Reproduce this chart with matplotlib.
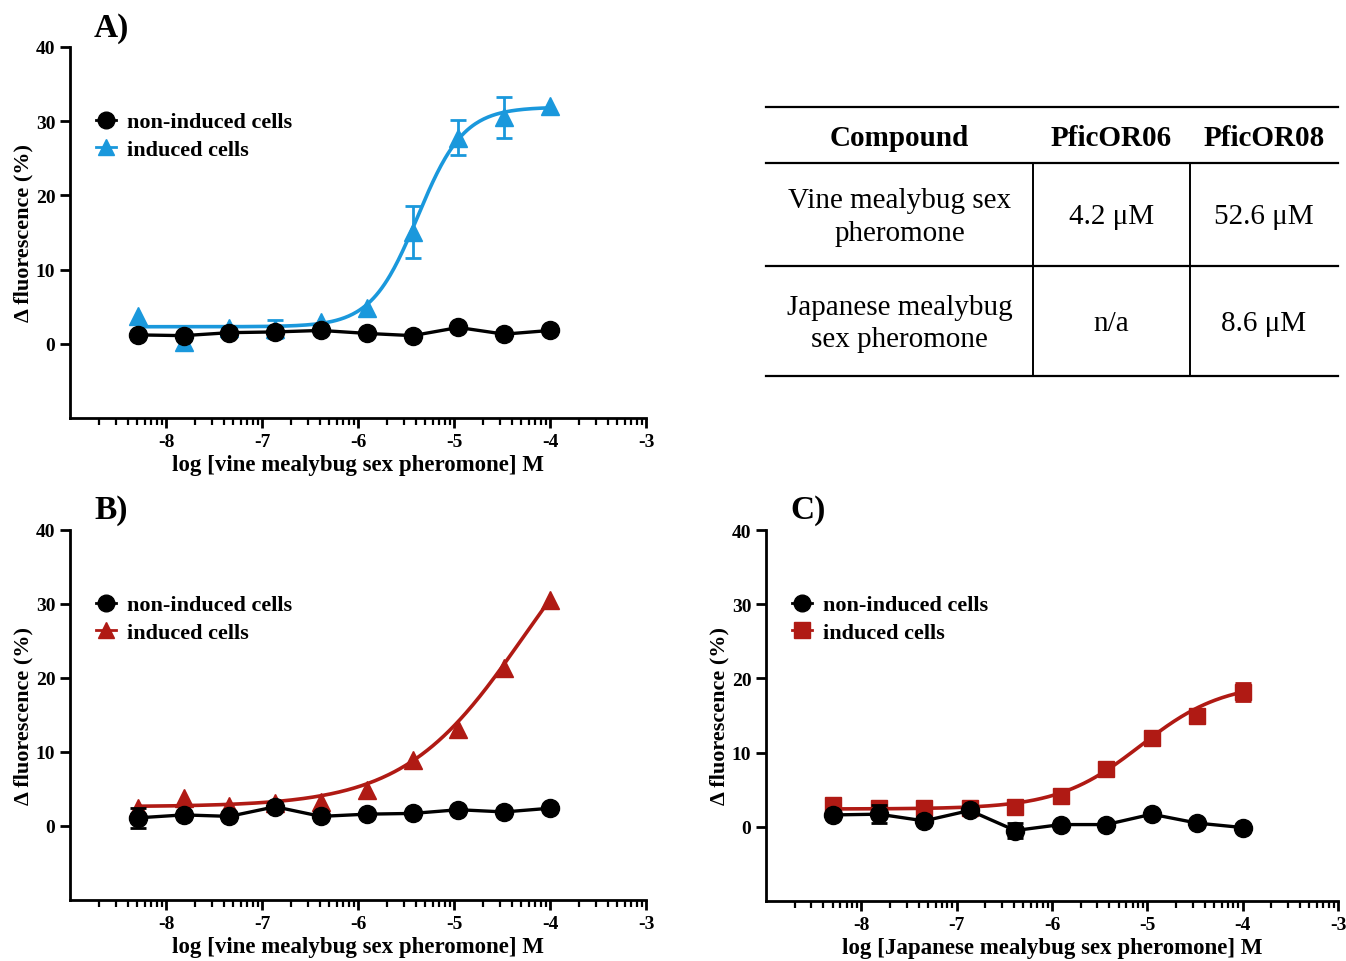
import numpy as np
import matplotlib
matplotlib.use('Agg')
import matplotlib.pyplot as plt
from matplotlib.lines import Line2D

plt.rcParams['font.family'] = ['Liberation Serif', 'DejaVu Serif']
plt.rcParams['font.weight'] = 'bold'
plt.rcParams['axes.unicode_minus'] = False

# ---------------- data ----------------
log_conc = [-8.294, -7.817, -7.340, -6.863, -6.386, -5.908, -5.431, -4.954, -4.477, -4.000]

# Panel A (PficOR06, vine mealybug sex pheromone)
a_induced = [3.8, 0.3, 2.1, 2.0, 2.9, 4.8, 15.1, 27.8, 30.5, 32.0]
a_induced_err = [0, 0, 0, 1.2, 0, 0, 3.5, 2.3, 2.7, 0]
a_non = [1.2, 1.1, 1.5, 1.6, 1.8, 1.4, 1.1, 2.2, 1.3, 1.8]
a_non_err = [0, 0, 0, 0, 0, 0, 0, 0, 0, 0]
a_fit = dict(bottom=2.3, top=31.9, logec50=-5.38, hill=1.8)

# Panel B (PficOR08, vine mealybug sex pheromone)
b_induced = [2.5, 3.8, 2.7, 3.1, 3.3, 4.8, 8.9, 13.1, 21.4, 30.6]
b_induced_err = [0, 0, 0, 0, 0, 0, 0, 0, 0, 0]
b_non = [1.1, 1.5, 1.3, 2.6, 1.3, 1.6, 1.7, 2.2, 1.9, 2.4]
b_non_err = [1.4, 0, 0, 0, 0, 0, 0, 0, 0, 0]
b_fit = dict(bottom=2.6, top=48.4, logec50=-4.28, hill=0.7)

# Panel C (PficOR08, Japanese mealybug sex pheromone)
c_induced = [3.0, 2.5, 2.6, 2.5, 2.7, 4.1, 7.8, 12.0, 15.0, 18.2]
c_induced_err = [0, 0, 0, 0, 0, 0, 0, 0, 0, 1.2]
c_non = [1.6, 1.7, 0.8, 2.2, -0.5, 0.3, 0.3, 1.7, 0.5, -0.1]
c_non_err = [0, 1.2, 0, 0, 1.0, 0, 0, 0, 0, 0]
c_fit = dict(bottom=2.4, top=19.5, logec50=-5.07, hill=1.0)

# Table
table_header = ['Compound', 'PficOR06', 'PficOR08']
table_rows = [
    ['Vine mealybug sex\npheromone', '4.2 μM', '52.6 μM'],
    ['Japanese mealybug\nsex pheromone', 'n/a', '8.6 μM'],
]

x_labels = ['log [vine mealybug sex pheromone] M',
            'log [vine mealybug sex pheromone] M',
            'log [Japanese mealybug sex pheromone] M']
legend_labels = ['non-induced cells', 'induced cells']

BLUE = '#1a98dc'
RED = '#b01a14'

W, H = 1346, 962
fig = plt.figure(figsize=(W / 100, H / 100), dpi=100)


def fig_rect(left, top, right, bottom):
    return [left / W, 1 - bottom / H, (right - left) / W, (bottom - top) / H]


def hill(x, bottom, top, logec50, hill):
    x = np.asarray(x)
    return bottom + (top - bottom) / (1 + 10 ** ((logec50 - x) * hill))


def style_axes(ax, xlabel):
    ax.set_xlim(-9, -3)
    ax.set_ylim(-10, 40)
    for s in ['top', 'right']:
        ax.spines[s].set_visible(False)
    for s in ['left', 'bottom']:
        ax.spines[s].set_linewidth(2.0)
    ax.set_yticks([0, 10, 20, 30, 40])
    ax.set_xticks([-8, -7, -6, -5, -4, -3])
    minor = [d + np.log10(k) for d in range(-9, -3) for k in range(2, 10)]
    ax.set_xticks(minor, minor=True)
    ax.tick_params(axis='both', which='major', direction='out', width=2.0,
                   length=7, labelsize=14)
    ax.tick_params(axis='x', which='minor', direction='out', width=1.6, length=5)
    ax.set_ylabel('Δ fluorescence (%)', fontsize=16, fontweight='bold', labelpad=2)
    ax.set_xlabel(xlabel, fontsize=16.5, fontweight='bold', labelpad=3)
    for lab in ax.get_xticklabels() + ax.get_yticklabels():
        lab.set_fontweight('bold')


def draw_errors(ax, y, err, color):
    idx = [i for i, e in enumerate(err) if e > 0]
    if idx:
        ax.errorbar([log_conc[i] for i in idx], [y[i] for i in idx],
                    yerr=[err[i] for i in idx], fmt='none', ecolor=color,
                    capsize=6, elinewidth=2, capthick=2, zorder=3)


def panel(rect, induced, induced_err, non, non_err, fit, color, marker, xlabel, label):
    ax = fig.add_axes(rect)
    xs = np.linspace(log_conc[0], log_conc[-1], 300)
    ax.plot(xs, hill(xs, **fit), color=color, lw=2.6, zorder=2)
    draw_errors(ax, induced, induced_err, color)
    ax.plot(log_conc, induced, linestyle='none', marker=marker, color=color,
            ms=12.5 if marker != 's' else 11.5, zorder=3)
    draw_errors(ax, non, non_err, 'black')
    ax.plot(log_conc, non, 'o-', color='black', lw=2.4, ms=13, zorder=4)
    style_axes(ax, xlabel)
    handles = [Line2D([], [], color='black', marker='o', ms=12, lw=2),
               Line2D([], [], color=color, marker=marker, ms=11.5, lw=2)]
    ax.legend(handles, legend_labels, loc='upper left', bbox_to_anchor=(0.045, 0.825),
              frameon=False, handlelength=0.9, handletextpad=0.5, labelspacing=0.3,
              borderpad=0, borderaxespad=0,
              prop=dict(family='Liberation Serif', weight='bold', size=16))
    fig.text(rect[0] + 24 / W, rect[1] + rect[3] + 20 / H, label, fontsize=24,
             fontweight='bold', va='center', ha='left')
    return ax


panel(fig_rect(70, 48, 646, 419), a_induced, a_induced_err, a_non, a_non_err, a_fit,
      BLUE, '^', x_labels[0], 'A)')
panel(fig_rect(70, 531, 646, 901), b_induced, b_induced_err, b_non, b_non_err, b_fit,
      RED, '^', x_labels[1], 'B)')
panel(fig_rect(766, 531, 1338, 902), c_induced, c_induced_err, c_non, c_non_err, c_fit,
      RED, 's', x_labels[2], 'C)')

# ---------------- table ----------------
tax = fig.add_axes([0, 0, 1, 1])
tax.set_xlim(0, W)
tax.set_ylim(H, 0)
tax.axis('off')
x0, x1 = 766, 1338
col_edges = [766, 1033, 1190, 1338]
row_lines = [108, 164, 267, 377]
for y in row_lines:
    tax.plot([x0, x1], [y, y], color='black', lw=1.6)
for xv in col_edges[1:3]:
    tax.plot([xv, xv], [row_lines[1], row_lines[3]], color='black', lw=1.4)
centers = [(col_edges[i] + col_edges[i + 1]) / 2 for i in range(3)]
centers[2] = 1264
for cx, txt in zip(centers, table_header):
    tax.text(cx, (row_lines[0] + row_lines[1]) / 2 + 2, txt, ha='center', va='center',
             fontsize=21, fontweight='bold', family='Liberation Serif')
for r, row in enumerate(table_rows):
    cy = (row_lines[r + 1] + row_lines[r + 2]) / 2 + 2
    for cx, txt in zip(centers, row):
        tax.text(cx, cy, txt, ha='center', va='center', fontsize=21,
                 fontweight='normal', family='Liberation Serif', linespacing=1.32)

fig.savefig('out.png', dpi=100)
